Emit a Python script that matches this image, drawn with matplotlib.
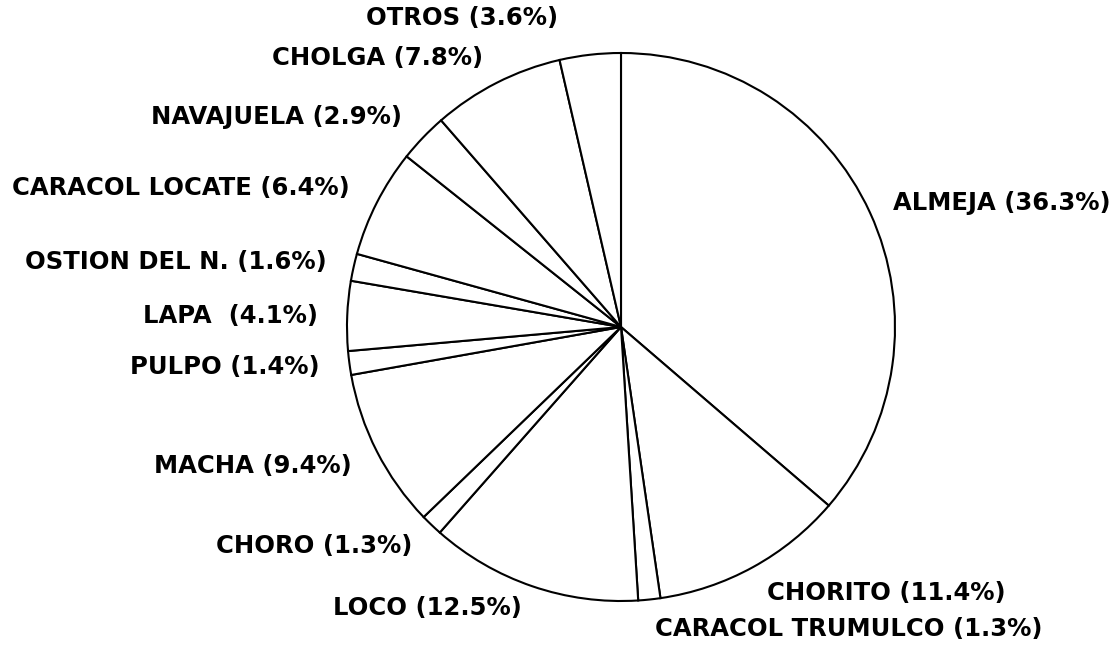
import matplotlib
matplotlib.use("Agg")
import matplotlib.pyplot as plt

# species and share of landings (%), clockwise from the top
especies = ['ALMEJA', 'CHORITO', 'CARACOL TRUMULCO', 'LOCO', 'CHORO', 'MACHA',
            'PULPO', 'LAPA ', 'OSTION DEL N.', 'CARACOL LOCATE', 'NAVAJUELA',
            'CHOLGA', 'OTROS']
porcentaje = [36.3, 11.4, 1.3, 12.5, 1.3, 9.4, 1.4, 4.1, 1.6, 6.4, 2.9, 7.8, 3.6]

# label anchor in pixels (x, y from top) and alignment
pos_etiqueta = [(893, 203, 'left'), (767, 593, 'left'), (655, 629, 'left'),
                (522, 608, 'right'), (412, 546, 'right'), (352, 466, 'right'),
                (320, 367, 'right'), (318, 316, 'right'), (327, 262, 'right'),
                (350, 188, 'right'), (402, 117, 'right'), (483, 58, 'right'),
                (558, 18, 'right')]

W, H = 1118, 645
fig = plt.figure(figsize=(W / 100, H / 100), dpi=100)
ax = fig.add_axes([0, 0, 1, 1])

ax.pie(porcentaje, center=(621, H - 327), radius=274, startangle=90,
       counterclock=False, colors=['white'] * len(porcentaje),
       wedgeprops=dict(edgecolor='black', linewidth=1.5), frame=True)
ax.set_xlim(0, W)
ax.set_ylim(0, H)
ax.axis('off')

for nombre, p, (x, y, ha) in zip(especies, porcentaje, pos_etiqueta):
    ax.text(x, H - y, f'{nombre} ({p}%)', ha=ha, va='center',
            fontsize=17.5, fontweight='bold', color='black',
            family='DejaVu Sans')

fig.savefig('out.png', dpi=100)
